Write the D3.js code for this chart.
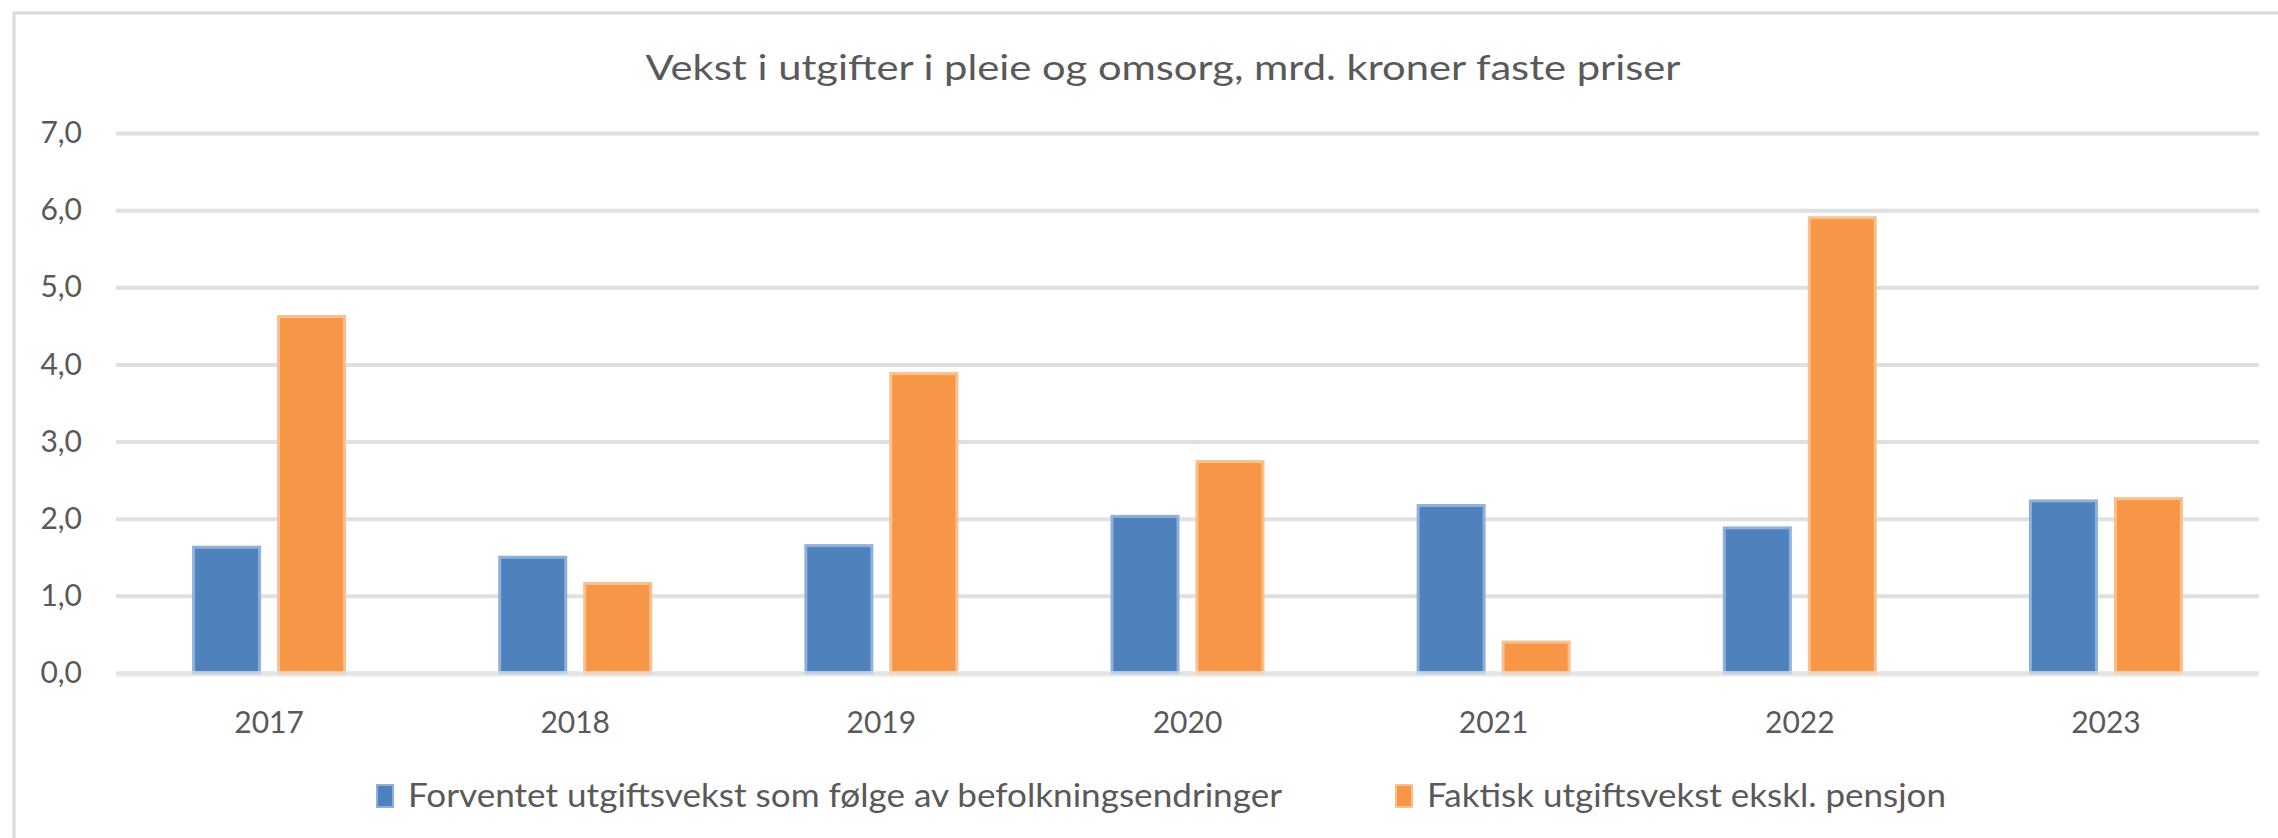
<!DOCTYPE html>
<html>
<head>
<meta charset="utf-8">
<script src="https://cdn.jsdelivr.net/npm/d3@7/dist/d3.min.js"></script>
<style>
  html, body { margin: 0; padding: 0; background: #ffffff; }
  svg { display: block; }
  text { font-family: Lato, "Open Sans", "Liberation Sans", sans-serif; fill: #595959; }
</style>
</head>
<body>
<svg id="chart" width="2278" height="838"></svg>
<script>
// ---- data ----
const title = "Vekst i utgifter i pleie og omsorg, mrd. kroner faste priser";
const years = ["2017", "2018", "2019", "2020", "2021", "2022", "2023"];
const forventet = [1.65, 1.52, 1.67, 2.05, 2.19, 1.90, 2.25];
const faktisk   = [4.64, 1.18, 3.90, 2.76, 0.42, 5.92, 2.28];
const seriesNames = [
  "Forventet utgiftsvekst som følge av befolkningsendringer",
  "Faktisk utgiftsvekst ekskl. pensjon"
];
const seriesColors = ["#4f81bd", "#f79646"];
const seriesEdge = ["#8eb0d9", "#f9bf8c"];
const yTicks = [0, 1, 2, 3, 4, 5, 6, 7];

// ---- layout ----
const W = 2278, H = 838;
const plot = { left: 116, right: 2259, top: 133, bottom: 673 };

const svg = d3.select("#chart");
const locale = d3.formatLocale({ decimal: ",", thousands: " ", grouping: [3], currency: ["", " kr"] });
const fmt = locale.format(".1f");

// outer chart border
svg.append("rect")
  .attr("x", 14).attr("y", 13)
  .attr("width", W + 20).attr("height", H + 20)
  .attr("fill", "none").attr("stroke", "#dadada").attr("stroke-width", 3);

// scales
const x0 = d3.scaleBand().domain(years).range([plot.left, plot.right])
  .paddingInner(0.497).paddingOuter(0.2485);
const x1 = d3.scaleBand().domain([0, 1]).range([0, x0.bandwidth()])
  .paddingInner(0.188).paddingOuter(0);
const y = d3.scaleLinear().domain([0, 7]).range([plot.bottom, plot.top]);

// y axis + gridlines
const yAxis = d3.axisLeft(y).tickValues(yTicks).tickFormat(fmt)
  .tickSize(-(plot.right - plot.left)).tickPadding(34);
const gy = svg.append("g").attr("transform", `translate(${plot.left},0)`).call(yAxis);
gy.select(".domain").remove();
gy.selectAll(".tick line").attr("stroke", "#e0e0e0").attr("stroke-width", 4);
gy.selectAll(".tick text").attr("font-size", 30).attr("fill", "#595959")
  .style("font-family", "Lato, 'Open Sans', sans-serif");

// bars
const data = years.map((yr, i) => ({ year: yr, values: [forventet[i], faktisk[i]] }));
const groups = svg.append("g").selectAll("g").data(data).join("g")
  .attr("transform", d => `translate(${x0(d.year)},0)`);
groups.selectAll("rect").data(d => d.values.map((v, k) => ({ k, v }))).join("rect")
  .attr("x", d => x1(d.k) + 1.5)
  .attr("width", x1.bandwidth() - 3)
  .attr("y", d => y(d.v) + 1.5)
  .attr("height", d => y(0) - y(d.v) - 1.5)
  .attr("fill", d => seriesColors[d.k])
  .attr("stroke", d => seriesEdge[d.k])
  .attr("stroke-width", 3);

// baseline (drawn over bars, semi transparent)
svg.append("line")
  .attr("x1", plot.left).attr("x2", plot.right)
  .attr("y1", y(0) + 1).attr("y2", y(0) + 1)
  .attr("stroke", "#e6e6e6").attr("stroke-width", 6).attr("stroke-opacity", 0.6);

// x axis labels
const xAxis = d3.axisBottom(x0).tickSize(0).tickPadding(0);
const gx = svg.append("g").attr("transform", `translate(0,${plot.bottom})`).call(xAxis);
gx.select(".domain").remove();
gx.selectAll(".tick text").attr("font-size", 30).attr("fill", "#595959")
  .attr("y", 49).attr("dy", "0.35em")
  .style("font-family", "Lato, 'Open Sans', sans-serif");

// title
svg.append("text")
  .attr("x", 1163).attr("y", 68)
  .attr("text-anchor", "middle").attr("dy", "0.35em")
  .attr("font-size", 34)
  .attr("textLength", 1035).attr("lengthAdjust", "spacingAndGlyphs")
  .text(title);

// legend
const legendItems = [
  { sx: 377, tx: 408, w: 874 },
  { sx: 1396, tx: 1427, w: 519 }
];
const lg = svg.append("g");
seriesNames.forEach((name, k) => {
  const it = legendItems[k];
  lg.append("rect")
    .attr("x", it.sx).attr("y", 785).attr("width", 16).attr("height", 22)
    .attr("fill", seriesColors[k]).attr("stroke", seriesEdge[k]).attr("stroke-width", 2);
  lg.append("text")
    .attr("x", it.tx).attr("y", 796).attr("dy", "0.35em")
    .attr("font-size", 32)
    .attr("textLength", it.w).attr("lengthAdjust", "spacingAndGlyphs")
    .text(name);
});
</script>
</body>
</html>
